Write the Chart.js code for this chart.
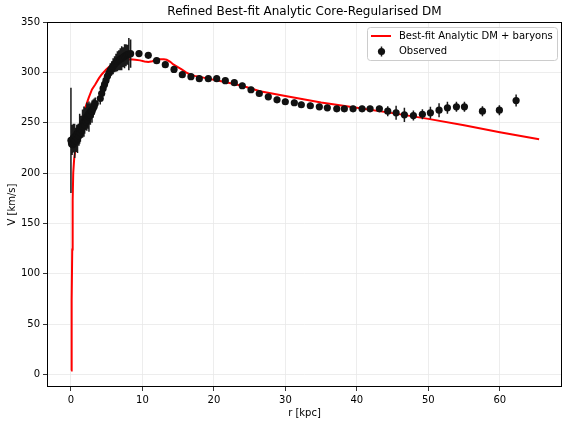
<!DOCTYPE html>
<html><head><meta charset="utf-8">
<script src="https://cdn.jsdelivr.net/npm/chart.js@4.4.0/dist/chart.umd.min.js"></script>
<style>html,body{margin:0;padding:0;background:#fff;}</style>
</head><body>
<canvas id="c" width="568" height="424"></canvas>
<script>
const TITLE = 'Refined Best-fit Analytic Core-Regularised DM';
const X_LABEL = 'r [kpc]';
const Y_LABEL = 'V [km/s]';
const LINE_LABEL = 'Best-fit Analytic DM + baryons';
const OBS_LABEL = 'Observed';
const X_TICKS = [0, 10, 20, 30, 40, 50, 60];
const Y_TICKS = [0, 50, 100, 150, 200, 250, 300, 350];

const modelR = [0.02, 0.1, 0.18, 0.24, 0.32, 0.45, 0.6, 0.84, 1.05, 1.3, 1.64, 2.0, 2.48, 2.94, 3.4, 3.9, 4.3, 4.9, 5.46, 6.2, 6.86, 7.6, 8.26, 9.0, 9.66, 10.3, 10.82, 11.4, 12.0, 12.46, 13.0, 13.39, 13.9, 14.32, 14.9, 15.49, 16.1, 16.65, 17.3, 18.05, 19.0, 20.85, 22.5, 24.07, 26.45, 30, 35, 39.99, 45, 50.0, 55, 60, 65.5];
const modelV = [4, 74, 124, 173, 200, 214, 222, 231.5, 240, 248, 256.4, 264.7, 274.7, 283, 288, 294, 297.9, 302.5, 306.2, 309, 311.2, 312.3, 312.9, 312.5, 311.9, 310.8, 310.2, 311, 312.9, 313, 313, 312.5, 310.5, 307.9, 305.5, 302.9, 300, 297.9, 296.5, 295.5, 294, 291.4, 289, 286.4, 281.3, 276.5, 270, 264.8, 259.5, 253.8, 247.5, 240.5, 233.5];

const obsR = [0.0, 0.08, 0.16, 0.25, 0.34, 0.43, 0.52, 0.62, 0.72, 0.82, 0.92, 1.02, 1.12, 1.22, 1.32, 1.42, 1.52, 1.62, 1.72, 1.82, 1.92, 2.02, 2.12, 2.22, 2.32, 2.42, 2.52, 2.62, 2.72, 2.82, 2.95, 3.1, 3.25, 3.4,
  4.1, 4.3, 4.5, 4.7, 4.9, 5.1, 5.3, 5.5, 5.7, 5.9, 6.1, 6.3, 6.5, 6.7, 6.9, 7.1, 7.3, 7.5, 7.7, 7.9, 8.1, 8.35,
  9.52, 10.82, 11.99, 13.2, 14.42, 15.58, 16.79, 17.96, 19.22, 20.39, 21.6, 22.86, 23.97, 25.19, 26.35, 27.61, 28.83, 29.99, 31.25, 32.23, 33.49, 34.75, 35.87, 37.19, 38.25, 39.47, 40.73, 41.85, 43.15, 44.32, 45.49, 46.65, 47.91, 49.17, 50.29, 51.5, 52.67, 53.93, 55.05, 57.57, 59.94, 62.28];
const obsV = [232.4, 229, 233, 228, 235, 230, 232, 237, 232, 239, 234, 241, 237, 244, 240, 246, 243, 249, 246, 251, 248, 254, 251, 256, 253, 258, 256, 260, 258, 262, 261, 264, 266, 269,
  274, 279, 284, 288, 292, 296, 299, 302, 304, 306, 308, 309.5, 311, 312, 313, 314, 315, 316, 317, 317.5, 318, 318.5,
  318.6, 316.9, 311.6, 307.6, 302.9, 297.7, 295.7, 293.7, 293.7, 293.7, 291.7, 289.7, 286.7, 282.7, 279.0, 275.7, 272.7, 270.8, 269.8, 267.8, 266.8, 265.8, 264.8, 263.8, 263.8, 263.8, 263.8, 263.8, 263.8, 261.4, 259.8, 257.8, 257.1, 258.4, 259.8, 262.4, 264.8, 265.8, 265.8, 261.4, 262.4, 272.0];
const obsErr = [52.3, 11, 15, 8, 14, 9, 17, 8, 11, 9, 14, 8, 10, 15, 9, 11, 8, 14, 9, 15, 9, 11, 8, 14, 9, 11, 15, 9, 10, 8, 11, 9, 8, 6,
  6, 5, 5, 6, 5, 6, 6, 7, 7, 8, 8, 9, 10, 10, 11, 12, 10, 12, 11, 10, 16, 14,
  3, 3, 3, 3, 3, 3, 3, 3, 3, 3, 3, 3, 3, 3, 3, 3, 3, 3, 3, 3, 3, 3, 3, 3, 3, 3, 3, 3, 3, 5, 7, 7, 5, 5, 6, 7, 6, 5, 5, 5, 5, 6];

const FONT = 'DejaVu Sans';
Chart.defaults.font.family = FONT;
Chart.defaults.color = '#000';

const errorBarPlugin = {
  id: 'errbars',
  afterDatasetDraw(chart, args) {
    if (args.index !== 1) return;
    const {ctx, chartArea: a, scales: {x, y}} = chart;
    ctx.save();
    ctx.beginPath(); ctx.rect(a.left, a.top, a.right - a.left, a.bottom - a.top); ctx.clip();
    ctx.strokeStyle = '#1a1a1a'; ctx.lineWidth = 1.5;
    ctx.beginPath();
    obsR.forEach((r, i) => {
      const px = x.getPixelForValue(r);
      ctx.moveTo(px, y.getPixelForValue(obsV[i] - obsErr[i]));
      ctx.lineTo(px, y.getPixelForValue(obsV[i] + obsErr[i]));
    });
    ctx.stroke();
    ctx.restore();
  }
};

const decorPlugin = {
  id: 'decor',
  afterDraw(chart) {
    const {ctx, chartArea: a} = chart;
    ctx.save();
    ctx.strokeStyle = '#000'; ctx.lineWidth = 1;
    ctx.strokeRect(a.left + 0.5, a.top + 0.5, a.right - a.left - 1, a.bottom - a.top - 1);
    ctx.fillStyle = '#000';
    ctx.font = '12px "' + FONT + '"';
    ctx.textAlign = 'center'; ctx.textBaseline = 'middle';
    ctx.fillText(TITLE, (a.left + a.right) / 2, 12);
    const bx = 367.5, by = 27.5, bw = 190, bh = 33, rad = 3;
    ctx.beginPath();
    ctx.moveTo(bx + rad, by); ctx.lineTo(bx + bw - rad, by); ctx.arcTo(bx + bw, by, bx + bw, by + rad, rad);
    ctx.lineTo(bx + bw, by + bh - rad); ctx.arcTo(bx + bw, by + bh, bx + bw - rad, by + bh, rad);
    ctx.lineTo(bx + rad, by + bh); ctx.arcTo(bx, by + bh, bx, by + bh - rad, rad);
    ctx.lineTo(bx, by + rad); ctx.arcTo(bx, by, bx + rad, by, rad); ctx.closePath();
    ctx.fillStyle = 'rgba(255,255,255,0.8)'; ctx.fill();
    ctx.strokeStyle = '#cccccc'; ctx.lineWidth = 1; ctx.stroke();
    ctx.strokeStyle = '#ff0000'; ctx.lineWidth = 2;
    ctx.beginPath(); ctx.moveTo(371, 36); ctx.lineTo(391, 36); ctx.stroke();
    ctx.strokeStyle = '#1a1a1a'; ctx.lineWidth = 1.5;
    ctx.beginPath(); ctx.moveTo(381.5, 46.5); ctx.lineTo(381.5, 56.5); ctx.stroke();
    ctx.fillStyle = '#111';
    ctx.beginPath(); ctx.arc(381.5, 51.5, 3.6, 0, Math.PI * 2); ctx.fill();
    ctx.fillStyle = '#000';
    ctx.font = '10px "' + FONT + '"';
    ctx.textAlign = 'left'; ctx.textBaseline = 'middle';
    ctx.fillText(LINE_LABEL, 399, 36);
    ctx.fillText(OBS_LABEL, 399, 51.5);
    ctx.restore();
  }
};

const gridOpts = {color: '#e8e8e8', lineWidth: 0.8, tickColor: '#000', tickLength: 4, tickWidth: 0.8};

new Chart(document.getElementById('c'), {
  type: 'scatter',
  data: {
    datasets: [
      {label: OBS_LABEL, data: obsR.map((r, i) => ({x: r, y: obsV[i]})), backgroundColor: '#111', borderWidth: 0, pointRadius: 3.6, pointHoverRadius: 3.6},
      {label: LINE_LABEL, type: 'line', data: modelR.map((r, i) => ({x: r, y: modelV[i]})), borderColor: '#ff0000', borderWidth: 2, pointRadius: 0, tension: 0, fill: false}
    ]
  },
  options: {
    responsive: false, animation: false, devicePixelRatio: 1,
    layout: {padding: {top: 22, right: 6, left: 0, bottom: 0}},
    plugins: {legend: {display: false}, title: {display: false}, tooltip: {enabled: false}},
    scales: {
      x: {
        type: 'linear', min: -3.35, max: 68.7,
        afterBuildTicks: s => { s.ticks = X_TICKS.map(v => ({value: v})); },
        afterFit: s => { s.height = 37; },
        ticks: {font: {size: 10}, color: '#000', padding: 3, maxRotation: 0, autoSkip: false},
        grid: gridOpts, border: {display: false},
        title: {display: true, text: X_LABEL, font: {size: 10}, color: '#000', padding: {top: 0, bottom: 5}}
      },
      y: {
        type: 'linear', min: -12.5, max: 350,
        afterBuildTicks: s => { s.ticks = Y_TICKS.map(v => ({value: v})); },
        afterFit: s => { s.width = 47; },
        ticks: {font: {size: 10}, color: '#000', padding: 3, autoSkip: false},
        grid: gridOpts, border: {display: false},
        title: {display: true, text: Y_LABEL, font: {size: 10}, color: '#000', padding: {top: 6, bottom: 0}}
      }
    }
  },
  plugins: [errorBarPlugin, decorPlugin]
});
</script>
</body></html>
